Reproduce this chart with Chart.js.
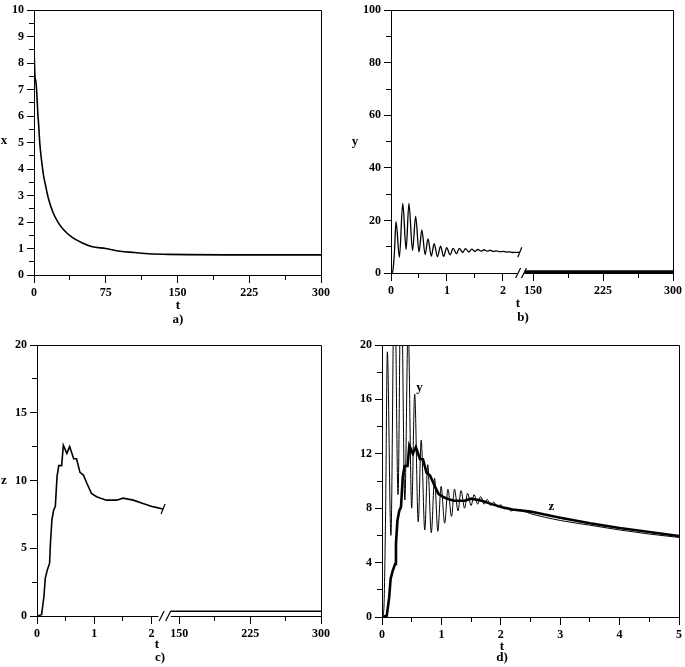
<!DOCTYPE html>
<html>
<head>
<meta charset="utf-8">
<script src="https://cdn.jsdelivr.net/npm/chart.js@4.4.0/dist/chart.umd.min.js"></script>
<style>
  body { margin: 0; background: #fff; width: 685px; height: 667px; position: relative; overflow: hidden; }
  canvas { position: absolute; }
</style>
</head>
<body>
<canvas id="chartA" width="342" height="333" style="left:0;top:0"></canvas>
<canvas id="chartB" width="343" height="333" style="left:342px;top:0"></canvas>
<canvas id="chartC" width="342" height="334" style="left:0;top:333px"></canvas>
<canvas id="chartD" width="343" height="334" style="left:342px;top:333px"></canvas>
<script>
// ---- a) x(t)
const aT = [0, 1, 2, 3, 4, 5, 6, 8, 10, 12, 15, 20, 25, 30, 40, 50, 60, 75, 90, 105, 120, 140, 160, 200, 250, 300];
const aX = [8.6, 7.5, 7.3, 6.8, 6.1, 5.6, 5.0, 4.3, 3.75, 3.4, 2.9, 2.35, 2.0, 1.75, 1.42, 1.22, 1.08, 1.0, 0.9, 0.85, 0.8, 0.78, 0.77, 0.76, 0.76, 0.76];
const aXTicks = [0, 37.5, 75, 112.5, 150, 187.5, 225, 262.5, 300];
const aXTickLabels = ['0', '', '75', '', '150', '', '225', '', '300'];
const aYTicks = [0, 0.5, 1, 1.5, 2, 2.5, 3, 3.5, 4, 4.5, 5, 5.5, 6, 6.5, 7, 7.5, 8, 8.5, 9, 9.5, 10];
const aYTickLabels = ['0', '', '1', '', '2', '', '3', '', '4', '', '5', '', '6', '', '7', '', '8', '', '9', '', '10'];

// ---- y(t) and z(t), early times (used by b, c, d)
const yT = [0, 0.03, 0.06, 0.09, 0.15, 0.21, 0.27, 0.32, 0.385, 0.44, 0.5, 0.55, 0.61, 0.66, 0.72, 0.77, 0.83, 0.885, 0.94, 0.995,
  1.055, 1.11, 1.17, 1.22, 1.28, 1.33, 1.39, 1.44, 1.5, 1.55, 1.61, 1.66, 1.72, 1.77, 1.83, 1.88, 1.94, 2.0, 2.06, 2.11, 2.17, 2.22, 2.3,
  2.5, 3, 3.5, 4, 4.5, 5];
const yV = [0, 0.5, 7.5, 19.5, 6, 26.5, 9, 26.5, 8.6, 21.5, 8, 16.4, 7, 13, 6.4, 11.2, 6.2, 10.2, 6.3, 9.6,
  6.9, 9.4, 7.4, 9.4, 7.8, 9.3, 8.0, 9.1, 8.2, 9.0, 8.3, 8.85, 8.3, 8.65, 8.2, 8.45, 8.1, 8.25, 7.95, 8.05, 7.8, 7.85, 7.9,
  7.6, 7.1, 6.75, 6.4, 6.1, 5.85];
const zT = [0, 0.08, 0.12, 0.145, 0.18, 0.22, 0.235, 0.26, 0.29, 0.32, 0.35, 0.38, 0.43, 0.46, 0.52, 0.57, 0.64, 0.69, 0.75, 0.81,
  0.87, 0.95, 1.04, 1.1, 1.21, 1.39, 1.5, 1.68, 1.85, 2.02, 2.2, 2.5, 3, 3.5, 4, 4.5, 5];
const zV = [0, 0.1, 1.4, 2.8, 3.4, 3.9, 5.4, 7.1, 7.8, 8.1, 10.3, 11.1, 11.1, 12.6, 12.0, 12.5, 11.6, 11.6, 10.6, 10.4,
  9.8, 9.05, 8.8, 8.7, 8.55, 8.55, 8.7, 8.55, 8.3, 8.07, 7.9, 7.75, 7.3, 6.9, 6.55, 6.25, 5.95];

// ---- late times (after the axis break)
const lateT = [141, 175, 225, 275, 300];
const yLate = [0.5, 0.5, 0.5, 0.5, 0.5];
const zLate = [0.35, 0.35, 0.35, 0.35, 0.35];

const bXTicks = [0, 0.5, 1, 1.5, 2, 150, 187.5, 225, 262.5, 300];
const bXTickLabels = ['0', '', '1', '', '2', '150', '', '225', '', '300'];
const bYTicks = [0, 10, 20, 30, 40, 50, 60, 70, 80, 90, 100];
const bYTickLabels = ['0', '', '20', '', '40', '', '60', '', '80', '', '100'];
const cXTicks = [0, 0.5, 1, 1.5, 2, 150, 187.5, 225, 262.5, 300];
const cXTickLabels = ['0', '', '1', '', '2', '150', '', '225', '', '300'];
const cYTicks = [0, 2.5, 5, 7.5, 10, 12.5, 15, 17.5, 20];
const cYTickLabels = ['0', '', '5', '', '10', '', '15', '', '20'];
const dXTicks = [0, 0.5, 1, 1.5, 2, 2.5, 3, 3.5, 4, 4.5, 5];
const dXTickLabels = ['0', '', '1', '', '2', '', '3', '', '4', '', '5'];
const dYTicks = [0, 2, 4, 6, 8, 10, 12, 14, 16, 18, 20];
const dYTickLabels = ['0', '', '4', '', '8', '', '12', '', '16', '', '20'];

// broken t axis: early part keeps t, late part is squeezed in after the gap
function breakMap(cut, uRef, tRef, perUnit) {
  return t => t <= cut ? t : uRef + (t - tRef) / perUnit;
}
const bMap = breakMap(2.35, 2.536, 150, 60);
const cMap = breakMap(2.35, 2.483, 150, 60.65);

function pts(ts, vs, map, tMax) {
  const out = [];
  ts.forEach((t, i) => { if (tMax === undefined || t <= tMax) out.push({ x: map ? map(t) : t, y: vs[i] }) });
  return out;
}

const FONT = { family: "'Liberation Serif', 'Times New Roman', serif", weight: 'bold', size: 12 };

function xAxis(max, ticks, labels, height) {
  return {
    type: 'linear', min: 0, max: max,
    afterBuildTicks: s => { s.ticks = ticks.map(v => ({ value: v })) },
    afterFit: s => { s.height = height },
    ticks: { autoSkip: false, maxRotation: 0, padding: 3, color: '#000', font: FONT, callback: (v, i) => labels[i] },
    grid: { drawOnChartArea: false, tickLength: 8, tickColor: '#000', tickWidth: 1,
      tickBorderDash: c => labels[c.index] === '' ? [4, 60] : [] },
    border: { color: '#000', width: 1 }
  };
}
function yAxis(max, ticks, labels, width) {
  return {
    type: 'linear', min: 0, max: max,
    afterBuildTicks: s => { s.ticks = ticks.map(v => ({ value: v })) },
    afterFit: s => { s.width = width },
    ticks: { autoSkip: false, padding: 3, color: '#000', font: FONT, callback: (v, i) => labels[i] },
    grid: { drawOnChartArea: false, tickLength: 7, tickColor: '#000', tickWidth: 1,
      tickBorderDash: c => labels[c.index] === '' ? [0, 2, 5, 60] : [] },
    border: { color: '#000', width: 1 }
  };
}

// top and right edges of the box
const framePlugin = {
  id: 'frame',
  afterDraw(chart) {
    const { ctx, chartArea: a } = chart;
    ctx.save();
    ctx.strokeStyle = '#000';
    ctx.lineWidth = 1;
    ctx.beginPath();
    ctx.moveTo(a.left, Math.floor(a.top) + 0.5);
    ctx.lineTo(Math.round(a.right) + 0.5, Math.floor(a.top) + 0.5);
    ctx.lineTo(Math.round(a.right) + 0.5, a.bottom);
    ctx.stroke();
    ctx.restore();
  }
};

// "//" on the t axis plus the slash ending the early curve
const breakPlugin = {
  id: 'axisBreak',
  afterDraw(chart, args, o) {
    if (!o.gap) return;
    const ctx = chart.ctx, sx = chart.scales.x, yb = chart.chartArea.bottom;
    const x1 = sx.getPixelForValue(o.gap[0]), x2 = sx.getPixelForValue(o.gap[1]);
    ctx.save();
    ctx.fillStyle = '#fff';
    ctx.fillRect(x1, yb - 1.5, x2 - x1, 3);
    ctx.strokeStyle = '#000';
    ctx.lineWidth = 1.2;
    ctx.beginPath();
    o.marks.forEach(u => {
      const px = sx.getPixelForValue(u);
      ctx.moveTo(px - 2.5, yb + 5);
      ctx.lineTo(px + 2.5, yb - 5);
    });
    const data = chart.getDatasetMeta(0).data;
    const last = data[data.length - 1];
    ctx.moveTo(last.x - 2, last.y + 5);
    ctx.lineTo(last.x + 2, last.y - 5);
    ctx.stroke();
    ctx.restore();
  }
};

// letters: axis names, captions, curve names
const textPlugin = {
  id: 'texts',
  afterDraw(chart, args, o) {
    const ctx = chart.ctx;
    ctx.save();
    ctx.fillStyle = '#000';
    ctx.font = "bold 13px 'Liberation Serif', 'Times New Roman', serif";
    ctx.textAlign = 'center';
    ctx.textBaseline = 'middle';
    (o.items || []).forEach(it => {
      let x = it.x, y = it.y;
      if (it.t !== undefined) {
        x = chart.scales.x.getPixelForValue(it.t);
        y = chart.scales.y.getPixelForValue(it.v);
      }
      ctx.fillText(it.text, x, y);
    });
    ctx.restore();
  }
};

function line(data, width, smooth) {
  const ds = { data: data, borderColor: '#000', borderWidth: width, pointRadius: 0, tension: 0, fill: false };
  if (smooth) ds.cubicInterpolationMode = 'monotone';
  return ds;
}

function makeChart(id, datasets, scales, padding, plugOpts) {
  return new Chart(document.getElementById(id), {
    type: 'line',
    data: { datasets: datasets },
    options: {
      responsive: false, animation: false,
      layout: { padding: padding },
      scales: scales,
      plugins: Object.assign({ legend: { display: false }, tooltip: { enabled: false } }, plugOpts)
    },
    plugins: [framePlugin, breakPlugin, textPlugin]
  });
}

// a)
makeChart('chartA',
  [line(pts(aT, aX), 1.6, true)],
  { x: xAxis(300, aXTicks, aXTickLabels, 58), y: yAxis(10, aYTicks, aYTickLabels, 34) },
  { top: 7, right: 21, left: 0, bottom: 0 },
  { texts: { items: [{ text: 'x', x: 4, y: 141 }, { text: 't', x: 178, y: 306 }, { text: 'a)', x: 178, y: 320 }] } });

// b)
makeChart('chartB',
  [line(pts(yT, yV, bMap, 2.3), 1.3, true), line(pts(lateT, yLate, bMap), 3)],
  { x: xAxis(bMap(300), bXTicks.map(bMap), bXTickLabels, 60), y: yAxis(100, bYTicks, bYTickLabels, 49) },
  { top: 7, right: 12, left: 0, bottom: 0 },
  { axisBreak: { gap: [2.25, 2.38], marks: [2.27, 2.375] },
    texts: { items: [{ text: 'y', x: 13, y: 142 }, { text: 't', x: 176, y: 304 }, { text: 'b)', x: 181, y: 318 }] } });

// c)
makeChart('chartC',
  [line(pts(zT, zV, cMap, 2.2), 1.6), line(pts(lateT, zLate, cMap), 1.3)],
  { x: xAxis(cMap(300), cXTicks.map(cMap), cXTickLabels, 51), y: yAxis(20, cYTicks, cYTickLabels, 37) },
  { top: 12, right: 21, left: 0, bottom: 0 },
  { axisBreak: { gap: [2.12, 2.335], marks: [2.175, 2.29] },
    texts: { items: [{ text: 'z', x: 4, y: 148 }, { text: 't', x: 157, y: 312 }, { text: 'c)', x: 160, y: 325 }] } });

// d)
makeChart('chartD',
  [line(pts(zT, zV), 2.6), line(pts(yT, yV), 1, true)],
  { x: xAxis(5, dXTicks, dXTickLabels, 50), y: yAxis(20, dYTicks, dYTickLabels, 40) },
  { top: 12, right: 5, left: 0, bottom: 0 },
  { texts: { items: [{ text: 'y', t: 0.63, v: 16.9 }, { text: 'z', t: 2.85, v: 8.1 },
    { text: 't', x: 160, y: 314 }, { text: 'd)', x: 160, y: 325 }] } });
</script>
</body>
</html>
